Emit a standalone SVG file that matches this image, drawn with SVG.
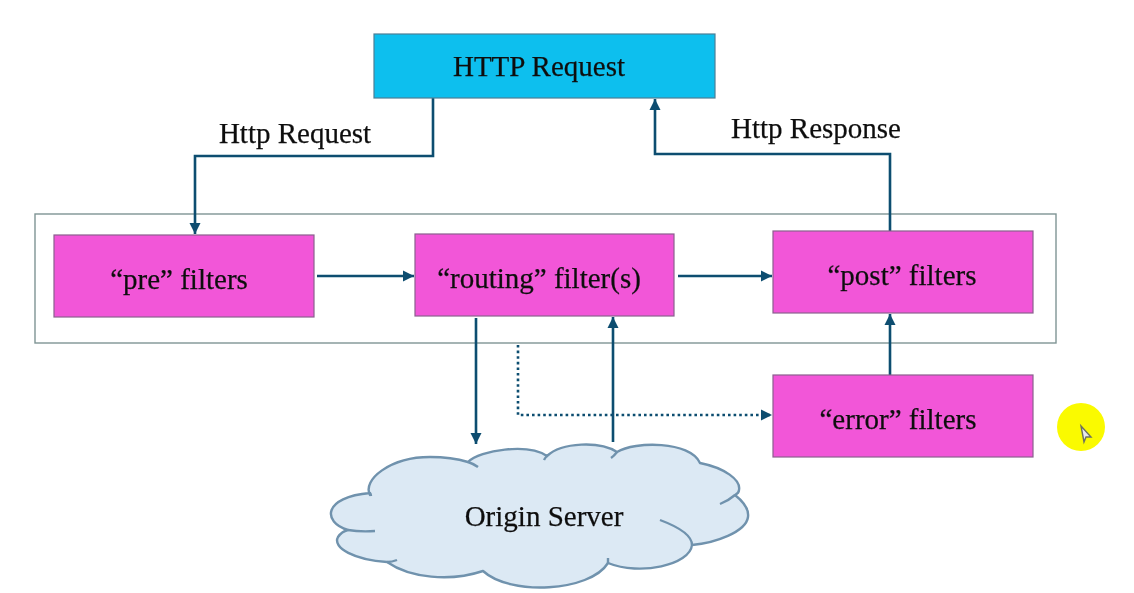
<svg xmlns="http://www.w3.org/2000/svg" width="1134" height="593" viewBox="0 0 1134 593">
<style>
text{font-family:"Liberation Serif","Times New Roman",serif;font-size:29px;fill:#111;stroke:#111;stroke-width:.25;text-anchor:middle}
.f{fill:#f257d8;stroke:#8a5f8e;stroke-width:1.2}
.c{fill:none;stroke:#0f4d70;stroke-width:2.6}
.d{fill:none;stroke:#0f4d70;stroke-width:2.6;stroke-dasharray:2.6 3}
</style>
<defs>
<marker id="a" markerUnits="userSpaceOnUse" markerWidth="14" markerHeight="14" refX="11" refY="7" orient="auto"><path d="M0 1.5L11 7L0 12.5z" fill="#0f4d70"/></marker>
<filter id="s" x="-5%" y="-5%" width="110%" height="110%"><feGaussianBlur stdDeviation="0.45"/></filter>
</defs>
<rect width="1134" height="593" fill="#fff"/>
<g filter="url(#s)">
<g id="container"><rect x="35" y="214" width="1021" height="129" fill="none" stroke="#7f9494" stroke-width="1.4"/></g>
<g id="connectors">
<path class="c" marker-end="url(#a)" d="M433 98V156H195V234"/>
<path class="c" marker-end="url(#a)" d="M890 231V154H655V99"/>
<path class="c" marker-end="url(#a)" d="M317 276H414"/>
<path class="c" marker-end="url(#a)" d="M678 276H772"/>
<path class="c" marker-end="url(#a)" d="M890 375V314"/>
<path class="c" marker-end="url(#a)" d="M476 318V444"/>
<path class="c" marker-end="url(#a)" d="M613 442V317"/>
<path class="d" marker-end="url(#a)" d="M518 345V415H772"/>
</g>
<g id="labels"><text x="295" y="143">Http Request</text><text x="816" y="138">Http Response</text></g>
<g id="http-request"><rect x="374" y="34" width="341" height="64" fill="#0fbfee" stroke="#4c7f96" stroke-width="1.2"/><text x="539" y="76">HTTP Request</text></g>
<g id="pre-filters"><rect class="f" x="54" y="235" width="260" height="82"/><text x="179" y="289">“pre” filters</text></g>
<g id="routing-filters"><rect class="f" x="415" y="234" width="259" height="82"/><text x="539" y="288">“routing” filter(s)</text></g>
<g id="post-filters"><rect class="f" x="773" y="231" width="260" height="82"/><text x="902" y="285">“post” filters</text></g>
<g id="error-filters"><rect class="f" x="773" y="375" width="260" height="82"/><text x="898" y="429">“error” filters</text></g>
<g id="origin-server">
<path d="M370 495C362 480 390 457 430 457C445 457 458 459 468 462C480 450 528 443 547 456C562 442 600 441 617 452C635 441 690 441 700 463C725 468 741 480 739 490C739 492 737 494 735 495C745 503 749 510 748 517C746 532 715 543 692 545C690 565 640 576 608 563C590 592 510 596 483 571C450 582 410 578 387 562C355 560 332 548 338 537C340 534 344 531 348 530C322 522 323 497 370 493Z" fill="#dce9f4" stroke="#6f92ad" stroke-width="2.4" stroke-linejoin="round"/>
<path d="M468 462Q474 464 478 467M547 456Q545 458 544 460M617 452Q614 456 611 458M735 495Q728 501 720 504M692 545Q692 532 660 520M608 563Q608 560 608 558M387 562Q392 562 397 560M348 530Q360 532 375 531M370 493Q371 494 371 496" fill="none" stroke="#6f92ad" stroke-width="2.4"/>
<text x="544" y="526">Origin Server</text></g>
<g id="pointer"><circle cx="1081" cy="427" r="24" fill="#fafa00"/>
<path d="M1081 426L1091 437L1086 437L1084 442Z" fill="#e8e8ee" stroke="#6c7060" stroke-width="1.4"/></g>
</g>
</svg>
